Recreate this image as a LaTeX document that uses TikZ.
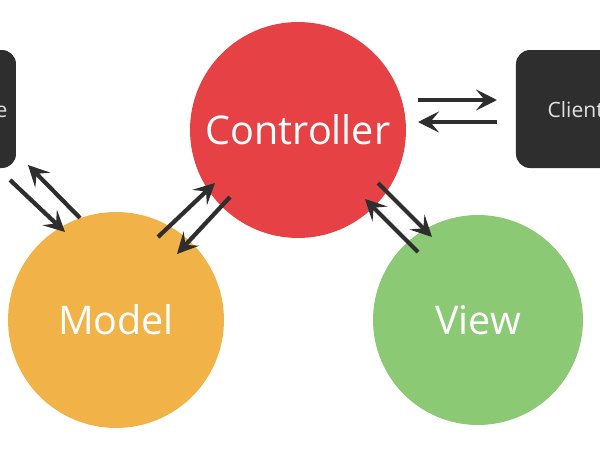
\documentclass[tikz,border=0pt]{standalone}
\usepackage{fontspec}
\setmainfont{Open Sans}
\usetikzlibrary{arrows.meta}
\definecolor{ctrlred}{RGB}{230,66,70}
\definecolor{modelorange}{RGB}{241,178,72}
\definecolor{viewgreen}{RGB}{139,201,117}
\begin{document}
\begin{tikzpicture}[x=0.02cm, y=-0.02cm, thick,
    part/.style={circle, minimum size=4.32cm, inner sep=0pt, text=white, font=\fontsize{22.5}{26}\selectfont},
    box/.style={rounded corners=8pt, fill=black!82, text=white!88!black, font=\fontsize{12}{14}\selectfont},
    flow/.style={-{Stealth[length=12pt, width=12pt, inset=5pt]}, line width=2.4pt, draw=black!82}]
\useasboundingbox (0,0) rectangle (600,450);

\node[part, fill=ctrlred] (ctrl) at (298,130) {Controller};
\node[part, fill=modelorange] (model) at (116,320) {Model};
\node[part, fill=viewgreen, minimum size=4.2cm] (view) at (478,320) {View};
\fill[box] (-40,50) rectangle (16,168);
\node[box, fill=none, anchor=east] (db) at (14,110) {Database};
\fill[box] (516,50) rectangle (640,168);
\node[box, fill=none, anchor=west] (client) at (541,110) {Client};

% arrow ends
\coordinate (a1) at (10,180); \coordinate (a2) at (65,232);
\coordinate (b1) at (80,218); \coordinate (b2) at (28,165);
\coordinate (c1) at (158,237); \coordinate (c2) at (215,183);
\coordinate (d1) at (230,197); \coordinate (d2) at (177,254);
\coordinate (e1) at (378,183); \coordinate (e2) at (432,237);
\coordinate (f1) at (418,252); \coordinate (f2) at (365,199);
\coordinate (g1) at (418,100); \coordinate (g2) at (497,100);
\coordinate (h1) at (497,122); \coordinate (h2) at (418,122);

\foreach \s/\t in {a1/a2, b1/b2, c1/c2, d1/d2, e1/e2, f1/f2, g1/g2, h1/h2}
    \draw[flow] (\s) -- (\t);
\end{tikzpicture}
\end{document}
